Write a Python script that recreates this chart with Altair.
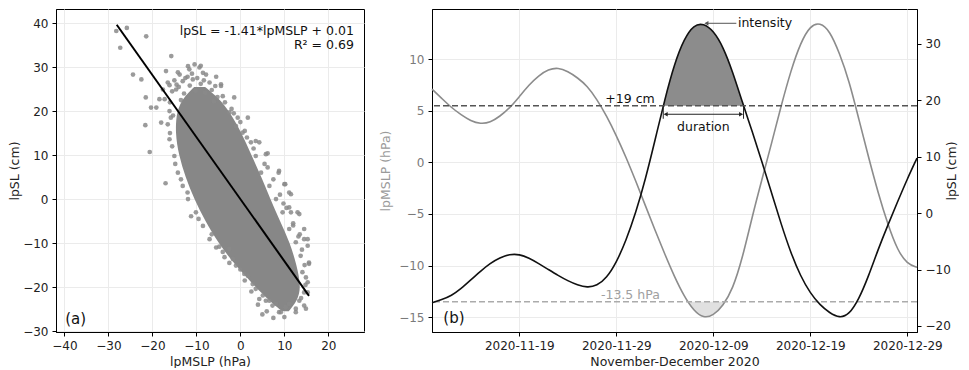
import altair as alt
import pandas as pd

# ---------------- panel (a): scatter lpSL vs lpMSLP ----------------
# extent of the dense (saturated) core of the cloud, per lpSL level
core_sl   = [25.5, 23.0, 20.0, 15.0, 10.0, 5.0, 0.0, -5.0, -10.0, -15.0, -20.0, -23.0, -25.5]
core_xmin = [-10.5, -13.0, -14.5, -14.8, -14.0, -12.5, -10.5, -8.0, -5.0, -1.2, 3.5, 6.5, 9.5]
core_xmax = [-8.0, -5.0, -2.5, 0.3, 2.5, 4.8, 6.8, 9.0, 11.3, 12.8, 13.8, 13.0, 11.0]

# individual points around the edge of the cloud and outliers
pts_x = [-28.2, -27.3, -25.8, -21.4, -24.4, -22.5, -21.5, -20.3, -19.1, -21.6, -20.6, -17.0, -11.2,
         -18.0, -15.7, -10.4, -11.9, -9.3, -5.5, -4.4, -1.4, -0.6, 4.3, 3.5, 5.8, 6.2, 8.8, 10.0,
         11.1, 11.5, 13.0, 14.5, 15.3, 15.6, 15.3, 14.9, 10.0, 8.8, 12.6, 11.1, 6.6, 5.1, 3.5, 1.7,
         -1.0, -3.6, -5.5, -7.0, -8.5, -10.1, -11.9, -13.1, -14.2, -15.0, -16.1, -16.5, -16.1, -17.2,
         -14.6, -13.1, -10.8, -7.8, -7.0, -4.0, -2.5, -1.0, 0.5, 2.4, 3.5, 4.7, 6.6, 8.1, 9.6, 11.1,
         12.6, 13.7, 14.1, 14.5, 13.4, 10.3, 8.1, -16.9, -13.8, -11.6, -8.5, 1.7, -5.7, -4.4, -17.6,
         -18.4, -16.1, -4.8, -2.5, -1.7, 0.9, 2.8, 4.3, 6.2, 8.7, 10.2, 11.5, 11.1, 13.4, 14.5, 15.3,
         15.6, 14.9, 15.3, 14.5, 12.6, 9.2, 7.3, 5.8, -9.0, -12.5, -14.5,
         -15.5, -14.0, -12.8, -11.5, -10.2, -9.0, -8.0, -6.5, -5.2, -3.5, -13.5, -16.0, -12.0, -9.8,
         -8.3, -6.0, -15.0, -14.2, -11.0, -16.5, -15.3, -2.0, 0.0, 1.5, 9.8, 12.0, 13.5, 7.5, 5.0,
         -6.5, -4.0, -2.5, 0.0, 1.0, 2.5, 4.0, 6.0, -9.5, -12.0, -13.5, -14.8, -15.5, -16.0, -15.8,
         1.0, -1.5, 3.0, 5.5, 7.5, 9.0, 10.5, 12.0, 13.2, 14.0, 14.6, 14.8, 13.8]
pts_y = [38.2, 34.4, 38.9, 37.0, 28.3, 27.2, 23.1, 20.8, 20.8, 16.8, 10.7, 3.6, -3.9,
         17.4, 32.5, 30.6, 30.2, 29.9, 27.8, 26.1, 23.1, 18.5, 12.9, 13.2, 10.2, 7.2, 6.4, 3.4,
         1.5, -3.0, -3.0, -6.8, -9.1, -14.7, -18.9, -24.9, -26.8, -25.7, -25.7, -23.8, -23.1, -21.9, -20.4, -17.4,
         -15.1, -13.2, -11.0, -9.1, -6.1, -3.0, 0.0, 3.0, 6.0, 9.8, 13.6, 17.0, 20.0, 22.7,
         24.9, 26.8, 27.2, 28.3, 26.5, 23.4, 19.7, 16.6, 15.1, 12.9, 9.8, 6.0, 3.0, 0.0, -3.0, -6.8,
         -9.8, -12.9, -16.6, -21.2, -23.1, -24.6, -23.8, 29.1, 28.3, 29.5, 28.7, 18.5, 25.7, 25.7, 24.9,
         22.7, 25.9, -10.8, -11.3, -13.6, -17.0, -19.3, -22.7, 10.4, 6.0, 3.4, 1.1, -1.9, -3.4, -9.1, -10.6,
         -14.4, -17.8, -21.2, -24.2, -24.9, -25.7, -24.2, -23.1, 30.3, 27.5, 26.0,
         24.5, 25.5, 24.0, 25.8, 24.6, 26.2, 24.2, 24.8, 23.2, 22.0, 22.5, 22.0, 27.8, 27.5,
         27.0, 22.2, 27.0, 28.8, 28.5, 26.5, 19.0, 20.5, 17.5, 14.0, -1.0, -6.0, -8.0, -27.0, -26.2,
         -8.0, -12.0, -14.5, -16.0, -18.5, -21.0, -24.0, -25.5, -4.5, 1.5, 4.5, 8.0, 12.0, 15.0, 18.5,
         15.5, 19.5, 11.5, 8.0, 4.5, 1.0, -2.0, -5.5, -8.5, -11.5, -15.0, -19.5, -22.5]

fit_slope = -1.41
fit_intercept = 0.01
fit_x = [-28.1, 15.6]
eq_text = ["lpSL = -1.41*lpMSLP + 0.01", "R\u00b2 = 0.69"]

# ---------------- panel (b): daily time series, 2020-11-10 .. 2020-12-30 ----------------
days = pd.date_range("2020-11-10", "2020-12-30", freq="D").strftime("%Y-%m-%dT%H:%M").tolist()
mslp_vals = [7.09, 6.2, 5.3, 4.6, 4.0, 3.72, 3.85, 4.45, 5.25, 6.35,
             7.5, 8.4, 9.0, 9.18, 8.8, 8.2, 7.4, 6.1, 4.5, 2.6,
             0.5, -1.8, -4.2, -6.6, -8.9, -11.1, -13.0, -14.4, -15.1, -14.85,
             -13.9, -12.3, -9.3, -5.3, -1.7, 1.8, 5.5, 8.9, 11.6, 13.25,
             13.55, 12.75, 10.6, 7.9, 4.2, 0.5, -3.0, -6.05, -8.55, -9.85, -10.16]
sl_vals = [-15.9, -15.35, -14.65, -13.4, -11.85, -10.3, -8.9, -7.9, -7.3, -7.3,
           -7.95, -8.95, -10.0, -11.05, -12.0, -12.75, -13.2, -12.9, -11.5, -8.8,
           -4.9, 0.0, 5.95, 12.96, 20.15, 26.5, 30.9, 33.35, 33.6, 32.3,
           29.5, 25.0, 19.6, 14.5, 9.2, 3.6, -2.0, -7.1, -11.2, -14.2,
           -16.3, -17.7, -18.6, -18.0, -15.3, -11.2, -6.4, -2.1, 2.0, 6.05, 9.73]

sl_threshold = 19.0
mslp_threshold = -13.5
date_ticks = ["2020-11-19", "2020-11-29", "2020-12-09", "2020-12-19", "2020-12-29"]

# annotation anchors
intensity_tip = "2020-12-08T07:00"
intensity_tail = "2020-12-11T09:00"
intensity_level = 33.6
duration_level = 17.5
duration_text_level = 15.2
label_19_date = "2020-12-02T23:00"
label_135_date = "2020-11-27T10:00"
label_b_date = "2020-11-11T04:00"

FONT = "DejaVu Sans"
CURVE = "basis"

# ================= build panel (a) =================
core_df = pd.DataFrame({"sl": core_sl, "xmin": core_xmin, "xmax": core_xmax})
pts_df = pd.DataFrame({"mslp": pts_x, "sl": pts_y})
fit_df = pd.DataFrame({"mslp": fit_x, "sl": [fit_slope * v + fit_intercept for v in fit_x]})
eq_df = pd.DataFrame({"mslp": [25.8, 25.8], "sl": [38.2, 35.1], "t": eq_text})
lab_a = pd.DataFrame({"mslp": [-39.8], "sl": [-27.2], "t": ["(a)"]})

xa_scale = alt.Scale(domain=[-41.9, 28.1], nice=False, zero=False)
ya_scale = alt.Scale(domain=[-30.2, 43.2], nice=False, zero=False)
xa_axis = alt.Axis(values=[-40, -30, -20, -10, 0, 10, 20], title="lpMSLP (hPa)")
ya_axis = alt.Axis(values=[-30, -20, -10, 0, 10, 20, 30, 40], title="lpSL (cm)", titlePadding=1)

core = alt.Chart(core_df).mark_area(orient="horizontal", color="#878787",
                                    interpolate="basis").encode(
    y=alt.Y("sl:Q", scale=ya_scale, axis=ya_axis),
    x=alt.X("xmin:Q", scale=xa_scale, axis=xa_axis),
    x2="xmax:Q")
pts = alt.Chart(pts_df).mark_circle(size=22, color="#8a8a8a", opacity=0.85).encode(
    x="mslp:Q", y="sl:Q")
fit = alt.Chart(fit_df).mark_line(color="black", strokeWidth=2).encode(x="mslp:Q", y="sl:Q")
eq = alt.Chart(eq_df).mark_text(align="right", baseline="middle", fontSize=12.5,
                                font=FONT, color="#111").encode(x="mslp:Q", y="sl:Q", text="t:N")
la = alt.Chart(lab_a).mark_text(align="left", baseline="middle", fontSize=15,
                                font=FONT, color="#111").encode(x="mslp:Q", y="sl:Q", text="t:N")

panel_a = alt.layer(core, pts, fit, eq, la).properties(width=308, height=323)

# ================= build panel (b) =================
mslp_df = pd.DataFrame({"date": days, "v": mslp_vals})
sl_df = pd.DataFrame({"date": days, "v": sl_vals})


def exceed_region(df, th, above=True):
    """Rows beyond the threshold plus the two points where the series meets it."""
    ts = pd.to_datetime(df["date"])
    v = df["v"].to_numpy()
    ok = (v >= th) if above else (v <= th)
    idx = [i for i in range(len(v)) if ok[i]]
    i0, i1 = idx[0], idx[-1]
    f0 = (th - v[i0 - 1]) / (v[i0] - v[i0 - 1])
    t0 = ts[i0 - 1] + f0 * (ts[i0] - ts[i0 - 1])
    f1 = (th - v[i1]) / (v[i1 + 1] - v[i1])
    t1 = ts[i1] + f1 * (ts[i1 + 1] - ts[i1])
    rows = [(t0, th)] + [(ts[i], v[i]) for i in idx] + [(t1, th)]
    out = pd.DataFrame({"date": [r[0].strftime("%Y-%m-%dT%H:%M") for r in rows],
                        "v": [r[1] for r in rows]})
    out["th"] = th
    return out, t0, t1


hi_df, c1, c2 = exceed_region(sl_df, sl_threshold, above=True)
lo_df, _, _ = exceed_region(mslp_df, mslp_threshold, above=False)
fmt = "%Y-%m-%dT%H:%M"
H = pd.Timedelta(hours=1)

x_scale = alt.Scale(domain=[alt.DateTime(year=2020, month=11, date=10, hours=0),
                            alt.DateTime(year=2020, month=12, date=30, hours=0)])
x_axis = alt.Axis(values=[alt.DateTime(year=int(d[:4]), month=int(d[5:7]), date=int(d[8:10]))
                          for d in date_ticks],
                  format="%Y-%m-%d", title="November-December 2020", labelFlush=False)
y1_scale = alt.Scale(domain=[-16.44, 14.85], nice=False, zero=False)
y2_scale = alt.Scale(domain=[-21.07, 36.14], nice=False, zero=False)
y1_axis = alt.Axis(orient="left", values=[-15, -10, -5, 0, 5, 10], title="lpMSLP (hPa)",
                   titleColor="#9a9a9a", labelColor="#7a7a7a", titlePadding=6)
y2_axis = alt.Axis(orient="right", values=[-20, -10, 0, 10, 20, 30], title="lpSL (cm)",
                   grid=False, titleAngle=270, titlePadding=8)

X = alt.X("date:T", scale=x_scale, axis=x_axis)

# --- lpMSLP group (left axis)
fill_lo = alt.Chart(lo_df).mark_area(color="#e0e0e0", interpolate=CURVE).encode(
    x=X, y=alt.Y("v:Q", scale=y1_scale, axis=y1_axis), y2="th:Q")
line_mslp = alt.Chart(mslp_df).mark_line(color="#8c8c8c", strokeWidth=1.6,
                                         interpolate=CURVE).encode(x="date:T", y="v:Q")
rule_lo = alt.Chart(pd.DataFrame({"v": [mslp_threshold]})).mark_rule(
    color="#ababab", strokeDash=[6, 3], strokeWidth=1.5).encode(y="v:Q")
txt_lo = alt.Chart(pd.DataFrame({"date": [label_135_date], "v": [mslp_threshold],
                                 "t": ["-13.5 hPa"]})).mark_text(
    align="left", baseline="alphabetic", dy=-3, fontSize=12.5, font=FONT, color="#a0a0a0").encode(
    x="date:T", y="v:Q", text="t:N")
txt_b = alt.Chart(pd.DataFrame({"date": [label_b_date], "v": [-15.08], "t": ["(b)"]})).mark_text(
    align="left", baseline="middle", fontSize=15, font=FONT, color="#111").encode(
    x="date:T", y="v:Q", text="t:N")
grp_mslp = alt.layer(fill_lo, line_mslp, rule_lo, txt_lo, txt_b)

# --- lpSL group (right axis)
fill_hi = alt.Chart(hi_df).mark_area(color="#8c8c8c", interpolate=CURVE).encode(
    x=X, y=alt.Y("v:Q", scale=y2_scale, axis=y2_axis), y2="th:Q")
line_sl = alt.Chart(sl_df).mark_line(color="#111111", strokeWidth=1.6,
                                     interpolate=CURVE).encode(x="date:T", y="v:Q")
rule_hi = alt.Chart(pd.DataFrame({"v": [sl_threshold]})).mark_rule(
    color="#555555", strokeDash=[6, 3], strokeWidth=1.5).encode(y="v:Q")
txt_hi = alt.Chart(pd.DataFrame({"date": [label_19_date], "v": [sl_threshold],
                                 "t": ["+19 cm"]})).mark_text(
    align="right", baseline="alphabetic", dy=-3, fontSize=12.5, font=FONT, color="#111").encode(
    x="date:T", y="v:Q", text="t:N")

# intensity arrow
tip = pd.Timestamp(intensity_tip)
tail = pd.Timestamp(intensity_tail)
int_line = alt.Chart(pd.DataFrame({"d1": [(tip + 2 * H).strftime(fmt)], "d2": [tail.strftime(fmt)],
                                   "v": [intensity_level]})).mark_rule(
    color="#707070", strokeWidth=1.2).encode(x="d1:T", x2="d2:T", y="v:Q")
int_head = alt.Chart(pd.DataFrame({"date": [tip.strftime(fmt)], "v": [intensity_level]})).mark_point(
    shape="triangle-left", filled=True, size=22, color="#555555", opacity=1).encode(x="date:T", y="v:Q")
int_txt = alt.Chart(pd.DataFrame({"date": [(tail + 4 * H).strftime(fmt)], "v": [intensity_level],
                                  "t": ["intensity"]})).mark_text(
    align="left", baseline="middle", fontSize=12.5, font=FONT, color="#111").encode(
    x="date:T", y="v:Q", text="t:N")

# duration arrow between the two threshold crossings
a1 = c1 + 6 * H
a2 = c2 - 6 * H
dur_line = alt.Chart(pd.DataFrame({"d1": [a1.strftime(fmt)], "d2": [a2.strftime(fmt)],
                                   "v": [duration_level]})).mark_rule(
    color="#222", strokeWidth=1.2).encode(x="d1:T", x2="d2:T", y="v:Q")
dur_heads = alt.Chart(pd.DataFrame({"date": [a1.strftime(fmt), a2.strftime(fmt)],
                                    "v": [duration_level, duration_level],
                                    "s": ["triangle-left", "triangle-right"]})).mark_point(
    filled=True, size=22, color="#222", opacity=1).encode(
    x="date:T", y="v:Q", shape=alt.Shape("s:N", scale=None, legend=None))
dur_ends = alt.Chart(pd.DataFrame({"date": [c1.strftime(fmt), c2.strftime(fmt)],
                                   "v1": [16.7, 16.7], "v2": [sl_threshold, sl_threshold]})).mark_rule(
    color="#222", strokeWidth=1).encode(x="date:T", y="v1:Q", y2="v2:Q")
dur_txt = alt.Chart(pd.DataFrame({"date": [(c1 + (c2 - c1) / 2).strftime(fmt)],
                                  "v": [duration_text_level], "t": ["duration"]})).mark_text(
    align="center", baseline="middle", fontSize=12.5, font=FONT, color="#111").encode(
    x="date:T", y="v:Q", text="t:N")

grp_sl = alt.layer(fill_hi, line_sl, rule_hi, txt_hi, int_line, int_head, int_txt,
                   dur_line, dur_heads, dur_ends, dur_txt)

panel_b = alt.layer(grp_mslp, grp_sl).resolve_scale(y="independent").properties(width=485, height=323)

chart = alt.hconcat(panel_a, panel_b, spacing=14).properties(
    padding={"left": 0, "top": 0, "right": 0, "bottom": 0}
).configure(font=FONT).configure_view(
    stroke="black", strokeWidth=1
).configure_axis(
    labelFont=FONT, titleFont=FONT, labelFontSize=12, titleFontSize=12.5,
    labelColor="#222", titleColor="#222", titleFontWeight="normal",
    domainColor="black", tickColor="black", tickSize=4, labelPadding=4,
    gridColor="#ebebeb", gridWidth=1
)

chart.save("out.html", embed_options={"renderer": "svg", "actions": False})
